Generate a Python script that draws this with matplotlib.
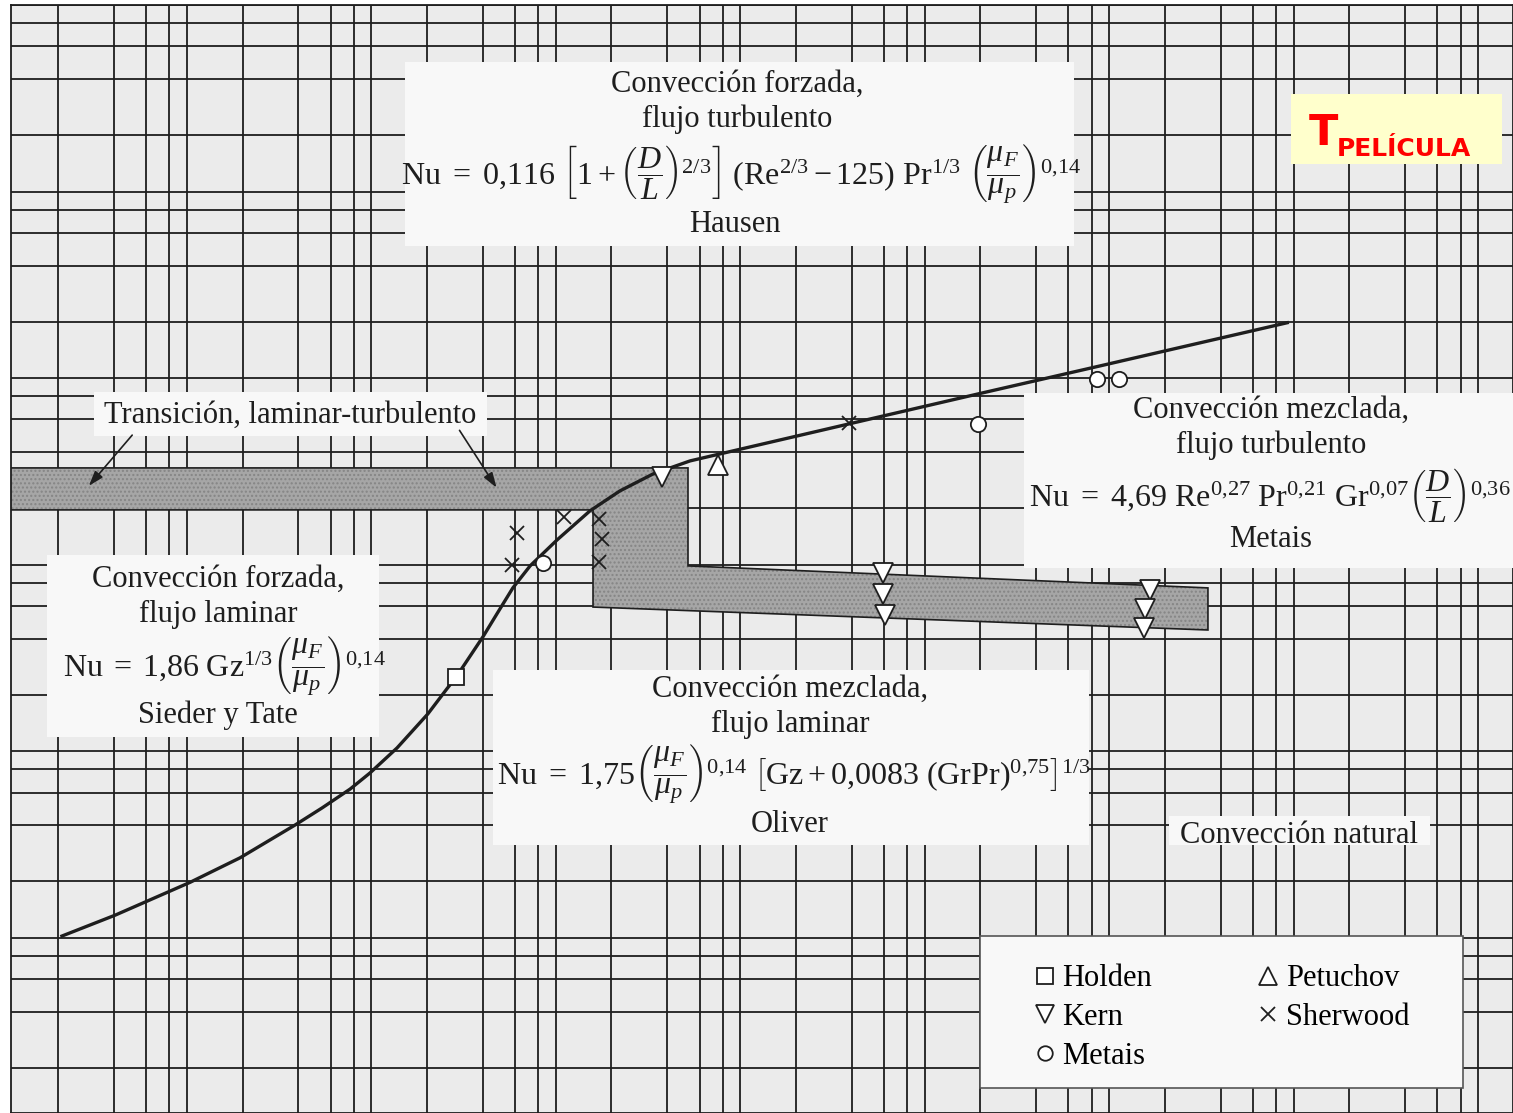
import matplotlib
matplotlib.use("Agg")
import matplotlib.pyplot as plt
from matplotlib.patches import Rectangle, Polygon

W, H = 1513, 1113

# Metais-Eckert chart: x = Gr·Pr·D/L, y = Re (log-log paper)
curve_x = [1.05, 2.04, 5.2, 9.7, 19.3, 27.0, 38.3, 49.1, 68.8, 101, 128, 144, 201,
           243, 292, 362, 507, 764, 1110, 1680, 2665, 3873, 19400, 99000, 445000, 4.6e6]
curve_y = [5.1, 6.6, 9.9, 13.4, 20.1, 24.8, 31.3, 38.2, 52.0, 79.1, 107.7, 125, 205,
           279, 375, 492, 678, 970, 1241, 1531, 1798, 1960, 2840, 4130, 5810, 9900]

holden_x = [144]
holden_y = [125]
kern_x = [1879, 29630, 29630, 30360, 829500, 779600, 769000]
kern_y = [1475, 451, 348, 268, 366, 289, 229]
metais_x = [426, 96900, 427800, 563000]
metais_y = [510, 2838, 4948, 4948]
petuchov_x = [3777]
petuchov_y = [1711]
sherwood_x = [308, 289, 553, 855, 889, 855, 19370]
sherwood_y = [739, 498, 900, 879, 686, 517, 2873]

# transition region (shaded)
band_x = [0.3, 2598, 2598, 1.71e6, 1.71e6, 794, 794, 0.3]
band_y = [1649, 1649, 492, 375, 223, 296, 982, 982]

plt.rcParams["mathtext.fontset"] = "custom"
plt.rcParams["mathtext.rm"] = "Liberation Serif"
plt.rcParams["mathtext.it"] = "Liberation Serif:italic"
plt.rcParams["mathtext.bf"] = "Liberation Serif:bold"
plt.rcParams["hatch.linewidth"] = 1.0
SERIF = ["Liberation Serif", "DejaVu Serif"]
FS = 22
FS_EQ = 23
INK = "#1e1e1e"


def fp(x, y):
    # image pixels -> figure fraction
    return x / W, 1 - y / H


fig = plt.figure(figsize=(W / 100, H / 100), dpi=100)
ax = fig.add_axes([11 / W, 0, 1 - 11 / W, (H - 5) / H])
ax.set_facecolor("#ebebeb")
ax.set_xscale("log")
ax.set_yscale("log")
ax.set_xlim(0.556, 7.7e7)
ax.set_ylim(0.574, 5e5)
ax.xaxis.set_major_locator(matplotlib.ticker.NullLocator())
ax.xaxis.set_minor_locator(matplotlib.ticker.NullLocator())
ax.yaxis.set_major_locator(matplotlib.ticker.NullLocator())
ax.yaxis.set_minor_locator(matplotlib.ticker.NullLocator())
for s in ax.spines.values():
    s.set_color(INK)
    s.set_linewidth(1.3)

# chart paper: lines at 1, 2, 3, 4, 5 of each decade
for n in range(0, 8):
    for k in (1, 2, 3, 4, 5):
        ax.axvline(k * 10 ** n, color=INK, lw=1.3, zorder=1)
for n in range(0, 6):
    for k in (1, 2, 3, 4, 5):
        ax.axhline(k * 10 ** n, color=INK, lw=1.3, zorder=1)

band = list(zip(band_x, band_y))
ax.add_patch(Polygon(band, closed=True, facecolor="#a6a6a6", edgecolor="none", zorder=2))
ax.add_patch(Polygon(band, closed=True, facecolor="none", edgecolor="#858585",
                     hatch="....", lw=0, zorder=2))
ax.add_patch(Polygon(band, closed=True, facecolor="none", edgecolor=INK, lw=1.2, zorder=2))

# blank areas behind the labels
boxes = [(405, 62, 1074, 246), (94, 392, 487, 436), (1024, 393, 1513, 568),
         (47, 555, 379, 737), (493, 670, 1089, 845), (1169, 816, 1430, 845)]
for x0, y0, x1, y1 in boxes:
    ax.add_patch(Rectangle(fp(x0, y1), (x1 - x0) / W, (y1 - y0) / H,
                           transform=fig.transFigure, facecolor="#f8f8f8",
                           edgecolor="none", zorder=3, clip_on=False))
# legend panel
ax.add_patch(Rectangle(fp(980, 1088), (1463 - 980) / W, (1088 - 936) / H,
                       transform=fig.transFigure, facecolor="#f8f8f8",
                       edgecolor="#555555", lw=1.2, zorder=3, clip_on=False))

ax.plot(curve_x, curve_y, color=INK, lw=2.4, zorder=4, solid_joinstyle="round")

mk = dict(linestyle="none", markerfacecolor="white", markeredgecolor=INK,
          markeredgewidth=1.3, zorder=5)
h1, = ax.plot(holden_x, holden_y, marker="s", markersize=12, label="Holden", **mk)
h2, = ax.plot(kern_x, kern_y, marker="v", markersize=14, label="Kern", **mk)
h3, = ax.plot(metais_x, metais_y, marker="o", markersize=11, label="Metais", **mk)
h4, = ax.plot(petuchov_x, petuchov_y, marker="^", markersize=14, label="Petuchov", **mk)
h5, = ax.plot(sherwood_x, sherwood_y, marker="x", markersize=10, label="Sherwood", **mk)

leg = ax.legend(handles=[h1, h2, h3, h4, h5], ncol=2, frameon=False,
                loc="upper left", bbox_to_anchor=fp(1019, 949),
                bbox_transform=fig.transFigure, prop={"family": SERIF, "size": FS},
                handlelength=0.7, handletextpad=0.22, labelspacing=0.32,
                columnspacing=3.45, markerscale=0.95, borderpad=0)
leg.set_zorder(6)


def label(x, y, s, ha="center", size=FS):
    fig.text(*fp(x, y), s, ha=ha, va="baseline", fontsize=size,
             family=SERIF, color=INK, zorder=6)


# forced convection, turbulent
label(737, 92, "Convección forzada,")
label(737, 127, "flujo turbulento")
label(401, 185, r"$\mathrm{Nu}\ =\ 0{,}116\ \left[1+\left(\dfrac{D}{L}\right)^{2/3}\right]"
      r"\ (\mathrm{Re}^{2/3} - 125)\ \mathrm{Pr}^{1/3}\ \left(\dfrac{\mu_F}{\mu_p}\right)^{0{,}14}$",
      ha="left", size=FS_EQ)
label(735, 232, "Hausen")

# mixed convection, turbulent
label(1029, 507, r"$\mathrm{Nu}\ =\ 4{,}69\ \mathrm{Re}^{0{,}27}\ \mathrm{Pr}^{0{,}21}\ "
      r"\mathrm{Gr}^{0{,}07}\left(\dfrac{D}{L}\right)^{0{,}36}$", ha="left", size=FS_EQ)
label(1271, 418, "Convección mezclada,")
label(1271, 453, "flujo turbulento")
label(1271, 547, "Metais")

# forced convection, laminar
label(218, 587, "Convección forzada,")
label(218, 622, "flujo laminar")
label(63, 677, r"$\mathrm{Nu}\;=\;1{,}86\ \mathrm{Gz}^{1/3}\left(\dfrac{\mu_F}{\mu_p}\right)^{0{,}14}$",
      ha="left", size=FS_EQ)
label(218, 723, "Sieder y Tate")

# mixed convection, laminar
label(790, 697, "Convección mezclada,")
label(790, 732, "flujo laminar")
label(497, 785, r"$\mathrm{Nu}\ =\ 1{,}75\left(\dfrac{\mu_F}{\mu_p}\right)^{0{,}14}\ "
      r"\left[\mathrm{Gz} + 0{,}0083\ (\mathrm{GrPr})^{0{,}75}\right]^{1/3}$",
      ha="left", size=FS_EQ)
label(790, 832, "Oliver")

label(1299, 843, "Convección natural")

# transition label with arrows into the shaded band
label(290, 423, "Transición, laminar-turbulento")
arrow = dict(arrowstyle="-|>,head_length=0.9,head_width=0.3", color=INK, lw=1.2)
ax.annotate("", xy=fp(87, 488), xytext=fp(134, 433), xycoords="figure fraction",
            textcoords="figure fraction", arrowprops=arrow, zorder=6)
ax.annotate("", xy=fp(498, 490), xytext=fp(458, 428), xycoords="figure fraction",
            textcoords="figure fraction", arrowprops=arrow, zorder=6)

# film temperature tag
ax.add_patch(Rectangle(fp(1291, 164), (1502 - 1291) / W, (164 - 94) / H,
                       transform=fig.transFigure, facecolor="#ffffcc",
                       edgecolor="none", zorder=6, clip_on=False))
fig.text(*fp(1309, 145), "T", fontsize=31, weight="bold", family="DejaVu Sans",
         color="#ff0000", va="baseline", zorder=7)
fig.text(*fp(1337, 156), "PELÍCULA", fontsize=18, weight="bold", family="DejaVu Sans",
         color="#ff0000", va="baseline", zorder=7)

fig.savefig("out.png", dpi=100)
